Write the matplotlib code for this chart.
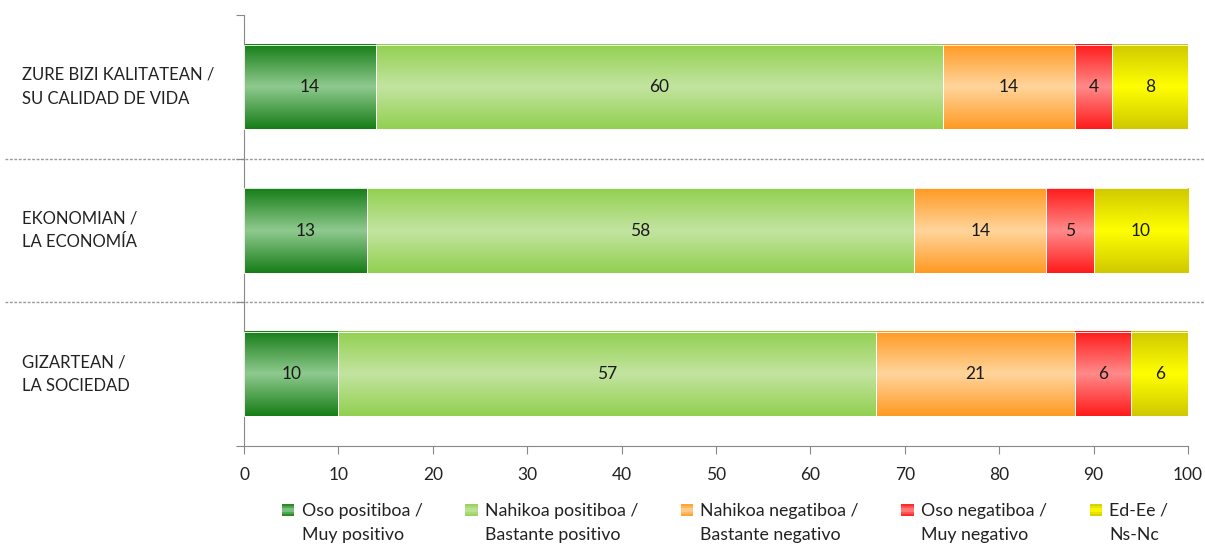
import numpy as np
import matplotlib
matplotlib.use("Agg")
import matplotlib.pyplot as plt
from matplotlib.colors import LinearSegmentedColormap
from matplotlib.patches import Rectangle, Patch
from matplotlib.legend_handler import HandlerBase
from matplotlib.transforms import blended_transform_factory

plt.rcParams['font.family'] = ['Lato', 'DejaVu Sans']

# datos
categorias = ['ZURE BIZI KALITATEAN /\nSU CALIDAD DE VIDA',
              'EKONOMIAN /\nLA ECONOMÍA',
              'GIZARTEAN /\nLA SOCIEDAD']
series = ['Oso positiboa /\nMuy positivo',
          'Nahikoa positiboa /\nBastante positivo',
          'Nahikoa negatiboa /\nBastante negativo',
          'Oso negatiboa /\nMuy negativo',
          'Ed-Ee /\nNs-Nc']
muy_pos = [14, 13, 10]
bast_pos = [60, 58, 57]
bast_neg = [14, 14, 21]
muy_neg = [4, 5, 6]
nsnc = [8, 10, 6]
valores = [muy_pos, bast_pos, bast_neg, muy_neg, nsnc]

# colores: borde / centro del degradado
borde = ['#167d16', '#92d050', '#ff9a22', '#ff1a1a', '#d0c800']
centro = ['#8fca8f', '#c3e4a0', '#ffd59c', '#ff8a8a', '#ffff00']
cmaps = [LinearSegmentedColormap.from_list('g%d' % i, [b, c, b])
         for i, (b, c) in enumerate(zip(borde, centro))]

fig = plt.figure(figsize=(12.05, 5.45), dpi=100)
ax = fig.add_axes([244 / 1205, 1 - 446 / 545, (1188 - 244) / 1205, (446 - 15) / 545])

grad = np.linspace(0, 1, 256).reshape(-1, 1)
alto = 0.585
izq = np.zeros(len(categorias))
for i, vals in enumerate(valores):
    vals = np.array(vals, dtype=float)
    for j, v in enumerate(vals):
        ax.imshow(grad, cmap=cmaps[i], aspect='auto', interpolation='bilinear',
                  extent=(izq[j], izq[j] + v, j + alto / 2, j - alto / 2), zorder=2)
        ax.add_patch(Rectangle((izq[j], j - alto / 2), v, alto, fill=False,
                               edgecolor='white', lw=0.6, zorder=3))
        ax.text(izq[j] + v / 2, j, '%d' % v, ha='center', va='center',
                fontsize=12.5, color='#1a1a1a', zorder=4)
    izq += vals

ax.set_xlim(0, 100)
ax.set_ylim(2.5, -0.5)
gris = '#888888'
for s in ['top', 'right']:
    ax.spines[s].set_visible(False)
for s in ['left', 'bottom']:
    ax.spines[s].set_color(gris)
ax.set_xticks(range(0, 101, 10))
ax.set_yticks([-0.5, 0.5, 1.5, 2.5])
ax.set_yticklabels([])
ax.tick_params(axis='both', direction='out', color=gris, length=6, labelsize=12.5,
               labelcolor='#222222')
ax.tick_params(axis='x', pad=9)

tr = blended_transform_factory(fig.transFigure, ax.transData)
for j, c in enumerate(categorias):
    ax.text(22 / 1205, j, c, transform=tr, ha='left', va='center', fontsize=12,
            color='#222222', linespacing=1.6)
for y in [0.5, 1.5]:
    ax.plot([5 / 1205, 1.0], [y, y], transform=tr, clip_on=False,
            color='#999999', lw=1, linestyle=(0, (2, 1.2)), zorder=1)


class HandlerGrad(HandlerBase):
    def __init__(self, cmap):
        super().__init__()
        self.cmap = cmap

    def create_artists(self, legend, orig_handle, xdescent, ydescent, width,
                       height, fontsize, trans):
        n = 6
        arts = []
        off = 0.75 * fontsize
        for k in range(n):
            r = Rectangle((-xdescent, -ydescent + off + k * height / n), width,
                          height / n, facecolor=self.cmap((k + 0.5) / n),
                          edgecolor='none', transform=trans)
            arts.append(r)
        return arts


handles = [Patch(label=s) for s in series]
leg = fig.legend(handles=handles, labels=series, ncol=5, frameon=False,
                 loc='upper left', bbox_to_anchor=(282 / 1205, 1 - 503 / 545),
                 bbox_transform=fig.transFigure, borderpad=0, borderaxespad=0,
                 handlelength=0.7, handleheight=0.7, handletextpad=0.4,
                 columnspacing=2.4, fontsize=12.8,
                 handler_map={h: HandlerGrad(cm) for h, cm in zip(handles, cmaps)})
for t in leg.get_texts():
    t.set_linespacing(1.65)
    t.set_color('#222222')

fig.savefig('out.png', dpi=100)
